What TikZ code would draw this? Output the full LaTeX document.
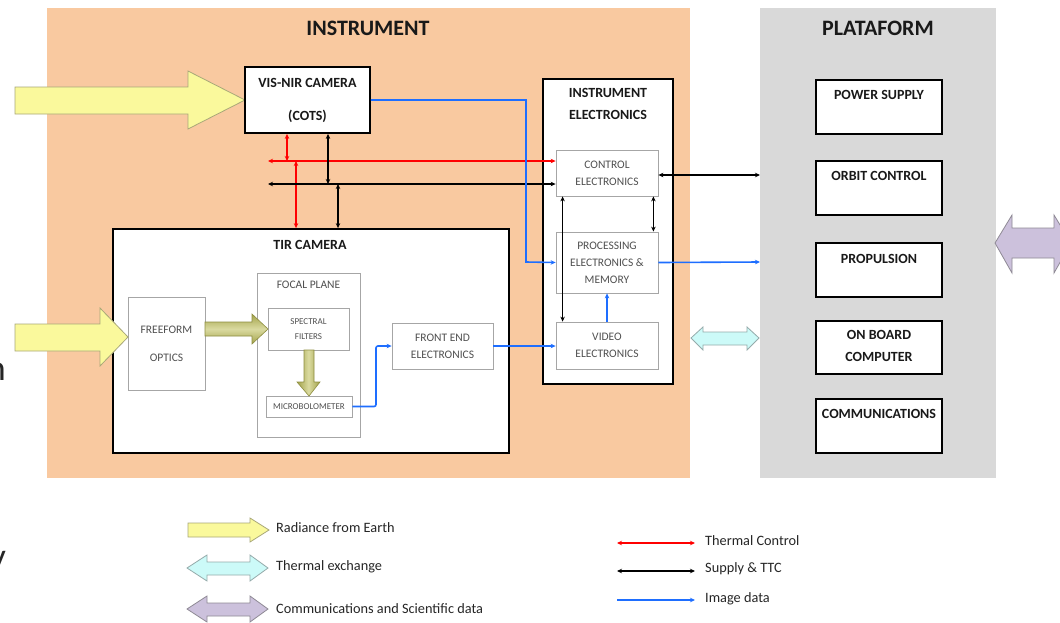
\documentclass[tikz,border=0pt]{standalone}
\usepackage{fontspec}
\setmainfont{Carlito}
\usetikzlibrary{arrows.meta,calc}
\definecolor{instbg}{HTML}{F9C9A0}
\definecolor{platbg}{HTML}{D9D9D9}
\definecolor{yel}{HTML}{FAF99C}
\definecolor{yelb}{HTML}{A9A878}
\definecolor{cya}{HTML}{CCFAF8}
\definecolor{cyab}{HTML}{95ABAB}
\definecolor{pur}{HTML}{CCC1DC}
\definecolor{purb}{HTML}{8F8A95}
\definecolor{blu}{HTML}{1E6EFF}
\definecolor{gtxt}{HTML}{505050}
\definecolor{gbord}{HTML}{A6A6A6}
\definecolor{oliveD}{HTML}{A3A34A}
\definecolor{oliveL}{HTML}{DADAA0}
\definecolor{oliveB}{HTML}{8E8E40}
\begin{document}
\begin{tikzpicture}[x=1pt,y=-1pt,
  bigbox/.style={draw=black,line width=1.8pt,fill=white,inner sep=0pt},
  gbox/.style={draw=gbord,line width=0.8pt,fill=white,inner sep=0pt},
  maintitle/.style={font=\fontsize{22}{26}\selectfont\bfseries,text=black!90,inner sep=0pt},
  boldlbl/.style={font=\fontsize{14}{17}\selectfont\bfseries,align=center,inner sep=0pt,text=black!90},
  graylbl/.style={font=\fontsize{11.5}{17}\selectfont,text=gtxt,align=center,inner sep=0pt},
  tinylbl/.style={font=\fontsize{9}{15}\selectfont,text=gtxt,align=center,inner sep=0pt},
  leglbl/.style={font=\fontsize{14.3}{17}\selectfont,text=black!85,anchor=west,inner sep=0pt},
  dbltip/.style={arrows={Stealth[length=5pt,width=4.5pt]-Stealth[length=5pt,width=4.5pt]}},
  sgltip/.style={arrows={-Stealth[length=5pt,width=4.5pt]}},
  thermalline/.style={draw=red,line width=1.2pt,dbltip},
  supplyline/.style={draw=black,line width=1.2pt,dbltip},
  imageline/.style={draw=blu,line width=1.6pt,sgltip},
  radarrow/.style={fill=yel,draw=yelb,line width=0.8pt,line join=miter},
  therarrow/.style={fill=cya,draw=cyab,line width=0.8pt,line join=miter},
  comarrow/.style={fill=pur,draw=purb,line width=0.8pt,line join=miter},
  olivearrow/.style={draw=oliveB,line width=0.6pt,line join=miter}
]
\useasboundingbox (0,0) rectangle (1060,622);
\fill[white] (0,0) rectangle (1060,622);
% backgrounds
\fill[instbg] (47,8) rectangle (690,478);
\fill[platbg] (760,8) rectangle (996,478);
\node[maintitle] (tinst) at (368,28) {INSTRUMENT};
\node[maintitle] (tplat) at (878,28) {PLATAFORM};

% edge fragments (cut by the left edge, as in the reference)
\node[anchor=base east,inner sep=0pt,font=\fontsize{36}{40}\selectfont,text=black!85] (fragn) at (6,380) {n};
\node[anchor=base east,inner sep=0pt,font=\fontsize{36}{40}\selectfont,text=black!85] (fragy) at (6,568) {y};

% radiance arrow to VIS-NIR
\path[radarrow] (15,87) -- (188,87) -- (188,71) -- (245,100) -- (188,129) -- (188,114) -- (15,114) -- cycle;

% VIS-NIR camera
\node[bigbox,minimum width=125pt,minimum height=66pt] (visnir) at (307.5,100) {};
\node[boldlbl] (visnirt) at (307.5,83) {VIS-NIR CAMERA};
\node[boldlbl] (visnirc) at (307.5,116) {(COTS)};

% instrument electronics
\node[bigbox,minimum width=130pt,minimum height=305pt] (ie) at (608,231.5) {};
\node[boldlbl] (iet) at (608,104) {INSTRUMENT\\[5pt]ELECTRONICS};
\node[gbox,minimum width=102pt,minimum height=46pt,graylbl] (ctrl) at (607,173) {CONTROL\\ELECTRONICS};
\node[gbox,minimum width=102pt,minimum height=61pt,graylbl] (proc) at (607,262.5) {PROCESSING\\ELECTRONICS \&\\MEMORY};
\node[gbox,minimum width=102pt,minimum height=47pt,graylbl] (video) at (607,345.5) {VIDEO\\ELECTRONICS};

% TIR camera
\node[bigbox,minimum width=396pt,minimum height=224pt] (tir) at (311,341) {};
\node[boldlbl] (tirt) at (310,245) {TIR CAMERA};
\node[gbox,minimum width=77pt,minimum height=93pt,font=\fontsize{11.5}{28}\selectfont,text=gtxt,align=center] (free) at (166.5,343.5) {FREEFORM\\OPTICS};
\node[gbox,minimum width=103pt,minimum height=164pt] (focal) at (308.5,355) {};
\node[graylbl] (focalt) at (308.5,285) {FOCAL PLANE};
\node[gbox,minimum width=81pt,minimum height=42pt,tinylbl] (spec) at (308.5,329) {SPECTRAL\\FILTERS};
\node[gbox,minimum width=86pt,minimum height=21pt,tinylbl] (micro) at (309,406.5) {MICROBOLOMETER};
\node[gbox,minimum width=101pt,minimum height=46pt,graylbl] (front) at (442.5,346) {FRONT END\\ELECTRONICS};

% radiance arrow to freeform optics
\path[radarrow] (15,324) -- (100,324) -- (100,308) -- (128,337) -- (100,366) -- (100,351) -- (15,351) -- cycle;

% olive arrows inside TIR
\path[olivearrow,top color=oliveD,bottom color=oliveD,middle color=oliveL]
  (205,322) -- (252,322) -- (252,314) -- (268,329) -- (252,344) -- (252,336) -- (205,336) -- cycle;
\path[olivearrow,left color=oliveD,right color=oliveD,middle color=oliveL]
  (304,350) -- (314,350) -- (314,382) -- (320,382) -- (309,396) -- (297,382) -- (304,382) -- cycle;

% platform boxes
\node[bigbox,minimum width=126pt,minimum height=54pt] (power) at (879,107) {};
\node[boldlbl] (powert) at (879,95) {POWER SUPPLY};
\node[bigbox,minimum width=126pt,minimum height=54pt] (orbit) at (879,188) {};
\node[boldlbl] (orbitt) at (879,176) {ORBIT CONTROL};
\node[bigbox,minimum width=126pt,minimum height=54pt] (prop) at (879,270) {};
\node[boldlbl] (propt) at (879,259) {PROPULSION};
\node[bigbox,minimum width=126pt,minimum height=53pt] (obc) at (879,347.5) {};
\node[boldlbl,font=\fontsize{14}{22}\selectfont\bfseries] (obct) at (879,346) {ON BOARD\\COMPUTER};
\node[bigbox,minimum width=126pt,minimum height=54pt] (comm) at (879,426) {};
\node[boldlbl] (commt) at (879,414) {COMMUNICATIONS};

% thermal control (red)
\coordinate (rl) at (268,161);
\coordinate (rv1) at (287,161);
\coordinate (rv2) at (296,161);
\draw[thermalline] (rl) -- (rl -| ctrl.west);
\draw[thermalline] (rv1 |- visnir.south) -- (rv1);
\draw[thermalline] (rv2) -- (rv2 |- tir.north);

% supply & TTC (black)
\coordinate (bl) at (268,184);
\coordinate (bv1) at (328,184);
\coordinate (bv2) at (338,184);
\draw[supplyline] (bl) -- (bl -| ctrl.west);
\draw[supplyline] (bv1 |- visnir.south) -- (bv1);
\draw[supplyline] (bv2) -- (bv2 |- tir.north);
\coordinate (pl1) at (760,175);
\draw[supplyline] (pl1 -| ctrl.east) -- (pl1);
\draw[supplyline] ([xshift=-5pt]ctrl.south east) -- ([xshift=-5pt]proc.north east);
\draw[supplyline] ([xshift=7pt]ctrl.south west) -- ([xshift=7pt]video.north west);

% image data (blue)
\coordinate (bx) at (526,262);
\draw[imageline] (visnir.east) -| (bx) -- (proc.west);
\draw[imageline] (video.north) -- (proc.south);
\coordinate (pl2) at (760,262);
\draw[imageline] (proc.east) -- (pl2);
\draw[imageline] (front.east) -- (front.east -| video.west);
\coordinate (mx) at (376,406.5);
\draw[imageline,rounded corners=2pt] (micro.east) -- (mx) |- (front.west);

% thermal exchange arrow
\path[therarrow] (691,338) -- (703,327) -- (703,332) -- (747,332) -- (747,327) -- (759,338) -- (747,350) -- (747,345) -- (703,345) -- (703,350) -- cycle;

% communications arrow (cut by right edge)
\path[comarrow] (995,243) -- (1012,215) -- (1012,228) -- (1054,228) -- (1054,215) -- (1071,243) -- (1054,273) -- (1054,258) -- (1012,258) -- (1012,273) -- cycle;

% legend
\path[radarrow] (188,523) -- (250,523) -- (250,518) -- (269,530) -- (250,542) -- (250,537) -- (188,537) -- cycle;
\node[leglbl] (lg1) at (276,528) {Radiance from Earth};
\path[therarrow] (187,568) -- (207,555) -- (207,562) -- (250,562) -- (250,555) -- (268,568) -- (250,581) -- (250,575) -- (207,575) -- (207,581) -- cycle;
\node[leglbl] (lg2) at (276,567) {Thermal exchange};
\path[comarrow] (187,609) -- (207,596) -- (207,603) -- (250,603) -- (250,596) -- (268,609) -- (250,622) -- (250,616) -- (207,616) -- (207,622) -- cycle;
\node[leglbl] (lg3) at (276,609) {Communications and Scientific data};

\coordinate (lr1) at (617,543);
\coordinate (lr2) at (695,543);
\draw[thermalline] (lr1) -- (lr2);
\node[leglbl] (lg4) at (705,541) {Thermal Control};
\coordinate (lb1) at (617,571);
\coordinate (lb2) at (695,571);
\draw[supplyline] (lb1) -- (lb2);
\node[leglbl] (lg5) at (705,569) {Supply \& TTC};
\coordinate (li1) at (617,600);
\coordinate (li2) at (695,600);
\draw[imageline] (li1) -- (li2);
\node[leglbl] (lg6) at (705,599) {Image data};
\end{tikzpicture}
\end{document}
